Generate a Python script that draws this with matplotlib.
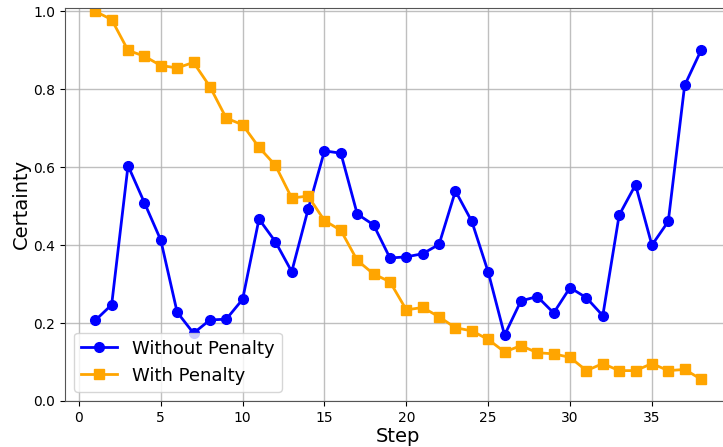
import numpy as np
import matplotlib
matplotlib.use('Agg')
import matplotlib.pyplot as plt

# Data
steps = list(range(1, 39))
without_penalty = [0.207, 0.247, 0.604, 0.509, 0.413, 0.228, 0.174, 0.208, 0.210, 0.261,
                   0.467, 0.409, 0.332, 0.492, 0.642, 0.636, 0.480, 0.452, 0.367, 0.370,
                   0.378, 0.402, 0.539, 0.461, 0.331, 0.169, 0.257, 0.268, 0.226, 0.291,
                   0.265, 0.219, 0.477, 0.555, 0.400, 0.461, 0.810, 0.900]
with_penalty = [1.000, 0.979, 0.900, 0.885, 0.861, 0.855, 0.869, 0.807, 0.726, 0.709,
                0.651, 0.605, 0.521, 0.526, 0.463, 0.438, 0.361, 0.326, 0.306, 0.234,
                0.240, 0.216, 0.188, 0.180, 0.158, 0.126, 0.142, 0.124, 0.121, 0.112,
                0.078, 0.096, 0.078, 0.078, 0.096, 0.078, 0.081, 0.056]

fig = plt.figure(figsize=(7.23, 4.47), dpi=100)
ax = fig.add_axes([65 / 723, 46 / 447, 666.3 / 723, 393.5 / 447])

ax.plot(steps, without_penalty, marker='o', linestyle='-', color='blue',
        linewidth=2, markersize=7, label='Without Penalty')
ax.plot(steps, with_penalty, marker='s', linestyle='-', color='orange',
        linewidth=2, markersize=7, label='With Penalty')

ax.set_xlim(-0.85, 39.85)
ax.set_ylim(0, 1.01)
ax.set_xlabel('Step', fontsize=14, labelpad=2)
ax.set_ylabel('Certainty', fontsize=14, labelpad=2)
ax.tick_params(labelsize=10)
ax.grid(True, color='#b0b0b0', linewidth=1, alpha=0.8)
for s in ax.spines.values():
    s.set_color('#555555')
ax.legend(fontsize=13, loc='lower left')

fig.savefig('out.png', dpi=100)
